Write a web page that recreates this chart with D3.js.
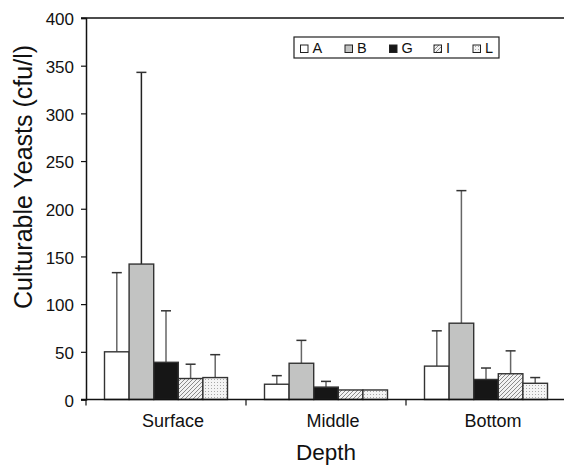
<!DOCTYPE html>
<html><head><meta charset="utf-8">
<script src="https://cdn.jsdelivr.net/npm/d3@7"></script>
<style>body{margin:0;background:#fff}svg{font-family:"Liberation Sans",Arial,sans-serif}</style>
</head><body>
<script>
const categories = ["Surface", "Middle", "Bottom"];
const seriesNames = ["A", "B", "G", "I", "L"];
const means = {
  A: [50, 16, 35],
  B: [142, 38, 80],
  G: [39, 13, 21],
  I: [22, 10, 27],
  L: [23, 10, 17]
};
const upper = {
  A: [133, 25, 72],
  B: [343, 62, 219],
  G: [93, 19, 33],
  I: [37, 10, 51],
  L: [47, 10, 23]
};
const yTicks = [0, 50, 100, 150, 200, 250, 300, 350, 400];

(function () {
const W = 564, H = 465;
const svg = d3.select("body").append("svg").attr("width", W).attr("height", H);
const defs = svg.append("defs");
const hatch = defs.append("pattern").attr("id", "hatch").attr("patternUnits", "userSpaceOnUse")
  .attr("width", 4).attr("height", 4);
hatch.append("rect").attr("width", 4).attr("height", 4).attr("fill", "#f2f2f2");
hatch.append("path").attr("d", "M-1,1 l2,-2 M0,4 l4,-4 M3,5 l2,-2").attr("stroke", "#8a8a8a").attr("stroke-width", 1);
const dots = defs.append("pattern").attr("id", "dots").attr("patternUnits", "userSpaceOnUse")
  .attr("width", 3).attr("height", 3);
dots.append("rect").attr("width", 3).attr("height", 3).attr("fill", "#f4f4f4");
dots.append("rect").attr("x", 1).attr("y", 1).attr("width", 1).attr("height", 1).attr("fill", "#a8a8a8");

const fills = { A: "#ffffff", B: "#c2c3c2", G: "#161616", I: "url(#hatch)", L: "url(#dots)" };

const pL = 86, pR = 566, pT = 18, pB = 399.5;
const x0 = d3.scaleBand().domain(categories).range([pL, pR]);
const x1 = d3.scaleBand().domain(seriesNames).range([18.5, x0.bandwidth() - 18.5]);
const y = d3.scaleLinear().domain([0, 400]).range([pB, pT]);

svg.append("line").attr("x1", pL - 5).attr("x2", W).attr("y1", pT).attr("y2", pT)
  .attr("stroke", "#111").attr("stroke-width", 1.5);

const g = svg.append("g");
categories.forEach((c, ci) => {
  seriesNames.forEach(s => {
    const bx = x0(c) + x1(s);
    const v = means[s][ci], u = upper[s][ci];
    const cx = bx + x1.bandwidth() / 2;
    if (u > v) {
      g.append("line").attr("x1", cx).attr("x2", cx).attr("y1", y(v)).attr("y2", y(u))
        .attr("stroke", s === "B" && ci === 0 ? "#222" : "#666").attr("stroke-width", 1.5);
      g.append("line").attr("x1", cx - 5).attr("x2", cx + 5).attr("y1", y(u)).attr("y2", y(u))
        .attr("stroke", "#333").attr("stroke-width", 1.5);
    }
    g.append("rect").attr("x", bx).attr("y", y(v)).attr("width", x1.bandwidth())
      .attr("height", y(0) - y(v)).attr("fill", fills[s]).attr("stroke", "#333").attr("stroke-width", 1.4);
  });
});

const yAxis = svg.append("g").attr("transform", `translate(${pL},0)`)
  .call(d3.axisLeft(y).tickValues(yTicks).tickSize(5).tickPadding(7));
yAxis.select(".domain").attr("stroke", "#111").attr("stroke-width", 1.5);
yAxis.selectAll(".tick line").attr("stroke", "#111").attr("stroke-width", 1.2);
yAxis.selectAll("text").attr("font-size", 17).attr("fill", "#111").attr("dy", "0.4em");

svg.append("line").attr("x1", pL - 5).attr("x2", W).attr("y1", pB).attr("y2", pB)
  .attr("stroke", "#111").attr("stroke-width", 1.5);
categories.forEach(c => {
  svg.append("line").attr("x1", x0(c)).attr("x2", x0(c)).attr("y1", pB).attr("y2", pB + 6)
    .attr("stroke", "#111").attr("stroke-width", 1.2);
  svg.append("text").attr("x", x0(c) + x0.bandwidth() / 2 + 7).attr("y", 427)
    .attr("text-anchor", "middle").attr("font-size", 18).attr("fill", "#111").text(c);
});

svg.append("text").attr("x", 326).attr("y", 460).attr("text-anchor", "middle")
  .attr("font-size", 22.5).attr("fill", "#111").text("Depth");
svg.append("text").attr("transform", `translate(32,177) rotate(-90)`)
  .attr("text-anchor", "middle").attr("font-size", 25).attr("fill", "#111").text("Culturable Yeasts (cfu/l)");

const lg = svg.append("g");
lg.append("rect").attr("x", 294).attr("y", 37).attr("width", 205).attr("height", 21)
  .attr("fill", "#fff").attr("stroke", "#222").attr("stroke-width", 1.2);
const legX = [300.5, 345, 389.5, 434, 473];
seriesNames.forEach((s, i) => {
  lg.append("rect").attr("x", legX[i]).attr("y", 45).attr("width", 7.5).attr("height", 7.5)
    .attr("fill", fills[s]).attr("stroke", "#222").attr("stroke-width", 1);
  lg.append("text").attr("x", legX[i] + 12).attr("y", 53).attr("font-size", 14.5).attr("fill", "#111").text(s);
});
})();
</script>
</body></html>
